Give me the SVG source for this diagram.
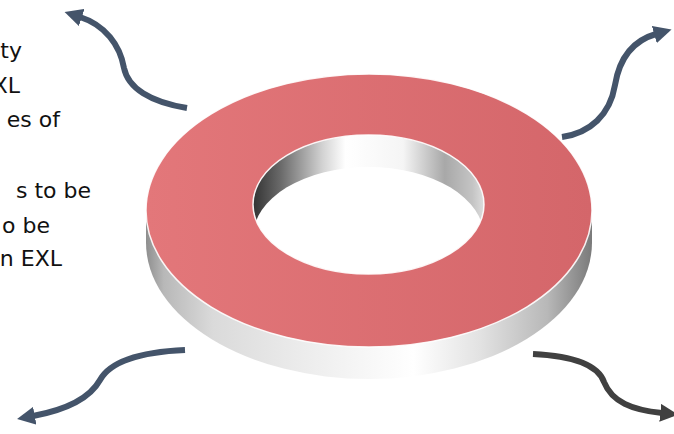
<svg xmlns="http://www.w3.org/2000/svg" width="674" height="434" viewBox="0 0 674 434">
<style>
.txt{font-family:"DejaVu Sans","Open Sans",sans-serif;font-size:22px;fill:#111;}
.arr{fill:none;stroke-width:6;stroke-linecap:butt;}
.blue{stroke:#44546a;}
.dark{stroke:#404040;}
</style>
<defs>
<linearGradient id="face" gradientUnits="userSpaceOnUse" x1="146" y1="0" x2="592" y2="0">
<stop offset="0" stop-color="#e3777a"/>
<stop offset="1" stop-color="#d4666a"/>
</linearGradient>
<linearGradient id="side" gradientUnits="userSpaceOnUse" x1="146" y1="0" x2="592" y2="0">
<stop offset="0" stop-color="#8e8e8e"/>
<stop offset="0.04" stop-color="#b8b8b8"/>
<stop offset="0.15" stop-color="#dadada"/>
<stop offset="0.35" stop-color="#ececec"/>
<stop offset="0.6" stop-color="#ffffff"/>
<stop offset="0.75" stop-color="#e2e2e2"/>
<stop offset="0.9" stop-color="#b8b8b8"/>
<stop offset="1" stop-color="#7a7a7a"/>
</linearGradient>
<linearGradient id="wall" gradientUnits="userSpaceOnUse" x1="253" y1="0" x2="484" y2="0">
<stop offset="0" stop-color="#333333"/>
<stop offset="0.12" stop-color="#6a6a6a"/>
<stop offset="0.3" stop-color="#d2d2d2"/>
<stop offset="0.4" stop-color="#ffffff"/>
<stop offset="0.65" stop-color="#f5f5f5"/>
<stop offset="0.83" stop-color="#a8a8a8"/>
<stop offset="0.95" stop-color="#c4c4c4"/>
<stop offset="1" stop-color="#dddddd"/>
</linearGradient>
<marker id="headBlue" viewBox="0 0 10 10" refX="1" refY="5" markerWidth="3" markerHeight="3" orient="auto" markerUnits="strokeWidth">
<path d="M0,0 L10,5 L0,10 Z" fill="#44546a"/>
</marker>
<marker id="headDark" viewBox="0 0 10 10" refX="1" refY="5" markerWidth="3" markerHeight="3" orient="auto" markerUnits="strokeWidth">
<path d="M0,0 L10,5 L0,10 Z" fill="#404040"/>
</marker>
</defs>
<rect width="674" height="434" fill="#ffffff"/>

<g id="text">
<text class="txt" text-anchor="end" x="22" y="58">ty</text>
<text class="txt" text-anchor="end" x="20" y="93">XL</text>
<text class="txt" text-anchor="end" x="60" y="127">es of</text>
<text class="txt" text-anchor="end" x="91" y="198">s to be</text>
<text class="txt" text-anchor="end" x="50" y="233">o be</text>
<text class="txt" text-anchor="end" x="62" y="266">n EXL</text>
</g>

<g id="ring">
<path d="M146,210.5 L146,242.5 A223,136.5 0 0 0 592,242.5 L592,210.5 Z" fill="url(#side)"/>
<ellipse cx="368.5" cy="204.5" rx="115.5" ry="69.5" fill="url(#wall)"/>
<ellipse cx="368.5" cy="236.5" rx="115.5" ry="69.5" fill="#ffffff"/>
<path d="M146,210.5 A223,136.5 0 1 0 592,210.5 A223,136.5 0 1 0 146,210.5 Z M253,204.5 A115.5,69.5 0 1 0 484,204.5 A115.5,69.5 0 1 0 253,204.5 Z" fill="url(#face)" fill-rule="evenodd" stroke="#ffffff" stroke-width="1.5" stroke-opacity="0.9"/>
</g>

<g id="connectors">
<path class="arr blue" d="M187,108 C150,102 128,88 124,68 C120,45 105,25 80,17" marker-end="url(#headBlue)"/>
<path class="arr blue" d="M562,137 C590,133 610,115 615,85 C620,55 635,40 656,34" marker-end="url(#headBlue)"/>
<path class="arr blue" d="M185,350 C140,352 110,362 100,380 C90,398 65,410 33,416" marker-end="url(#headBlue)"/>
<path class="arr dark" d="M533,354 C575,356 598,365 604,382 C612,402 632,410 662,413" marker-end="url(#headDark)"/>
</g>
</svg>
